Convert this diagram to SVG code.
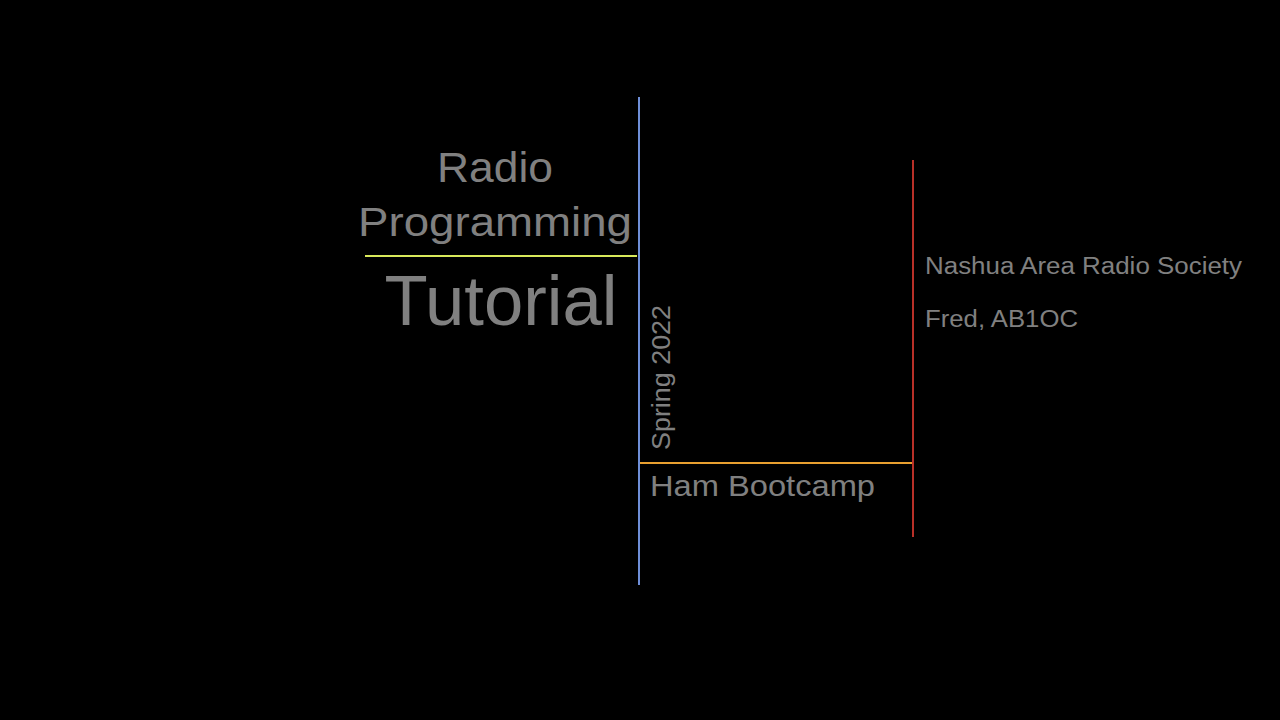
<svg xmlns="http://www.w3.org/2000/svg" width="1280" height="720" viewBox="0 0 1280 720">
<style>text{font-family:"Liberation Sans",Arial,sans-serif;fill:#808080}line{stroke-width:2}</style>
<rect width="1280" height="720" fill="#000"/>
<line x1="639" y1="97" x2="639" y2="585" stroke="#6f8fd8"/>
<line x1="365" y1="256" x2="637" y2="256" stroke="#d8e85a"/>
<line x1="640" y1="463" x2="912" y2="463" stroke="#e8a030"/>
<line x1="913" y1="160" x2="913" y2="537" stroke="#b83028"/>
<text x="495" y="182" font-size="42" text-anchor="middle" textLength="116" lengthAdjust="spacingAndGlyphs">Radio</text>
<text x="495" y="236" font-size="41" text-anchor="middle" textLength="274" lengthAdjust="spacingAndGlyphs">Programming</text>
<text x="501" y="325" font-size="70" text-anchor="middle" textLength="233" lengthAdjust="spacingAndGlyphs">Tutorial</text>
<text transform="translate(670,450) rotate(-90)" font-size="26" textLength="145" lengthAdjust="spacingAndGlyphs">Spring 2022</text>
<text x="650" y="496" font-size="29" textLength="225" lengthAdjust="spacingAndGlyphs">Ham Bootcamp</text>
<text x="925" y="274" font-size="23" textLength="317" lengthAdjust="spacingAndGlyphs">Nashua Area Radio Society</text>
<text x="925" y="327" font-size="23" textLength="153" lengthAdjust="spacingAndGlyphs">Fred, AB1OC</text>
</svg>
